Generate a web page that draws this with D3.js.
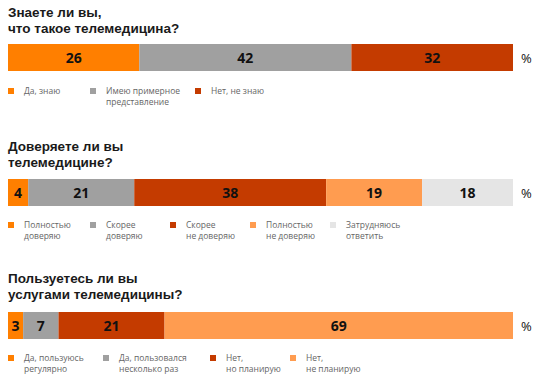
<!DOCTYPE html>
<html lang="ru">
<head>
<meta charset="UTF-8">
<title>Телемедицина</title>
<script src="https://d3js.org/d3.v7.min.js"></script>
<style>
  body { margin: 0; background: #fff; }
  svg { display: block; font-family: "Open Sans", "DejaVu Sans", sans-serif; }
  .title { font-family: "Liberation Sans", Arial, sans-serif; }
</style>
</head>
<body>
<div id="chart"></div>
<script>
// questions (two title lines each)
var titles = [
  ["Знаете ли вы,", "что такое телемедицина?"],
  ["Доверяете ли вы", "телемедицине?"],
  ["Пользуетесь ли вы", "услугами телемедицины?"]
];

// values per question, in %
var values1 = [26, 42, 32];
var values2 = [4, 21, 38, 19, 18];
var values3 = [3, 7, 21, 69];

// legend labels (lines split by |)
var labels1 = ["Да, знаю", "Имею примерное|представление", "Нет, не знаю"];
var labels2 = ["Полностью|доверяю", "Скорее|доверяю", "Скорее|не доверяю", "Полностью|не доверяю", "Затрудняюсь|ответить"];
var labels3 = ["Да, пользуюсь|регулярно", "Да, пользовался|несколько раз", "Нет,|но планирую", "Нет,|не планирую"];

var colors1 = ["#ff7f00", "#a0a0a0", "#c43b00"];
var colors2 = ["#ff7f00", "#a0a0a0", "#c43b00", "#ff9c50", "#e5e5e5"];
var colors3 = ["#ff7f00", "#a0a0a0", "#c43b00", "#ff9c50"];

var width = 538, height = 380;

var svg = d3.select("#chart").append("svg")
    .attr("width", width)
    .attr("height", height);

var x = d3.scaleLinear().domain([0, 100]).range([8, 513]);

// layout of each block
var blocks = [
  {values: values1, labels: labels1, colors: colors1, titleY: 17, barY: 44, legendY: 88, legendX: [8, 90, 195]},
  {values: values2, labels: labels2, colors: colors2, titleY: 151, barY: 179, legendY: 222, legendX: [8, 90, 170, 250, 330]},
  {values: values3, labels: labels3, colors: colors3, titleY: 283, barY: 312, legendY: 355, legendX: [8, 103, 210, 290]}
];
var barH = 27;

blocks.forEach(function(b, i) {
  var g = svg.append("g");

  // title, one text per line
  g.selectAll(".title")
      .data(titles[i])
      .enter().append("text")
      .attr("class", "title")
      .attr("x", 8)
      .attr("y", function(d, j) { return b.titleY + j * 15.5; })
      .attr("font-size", "13.5px")
      .attr("font-weight", "bold")
      .attr("fill", "#1a1a1a")
      .text(function(d) { return d; });

  // cumulative starts
  var starts = [];
  var acc = 0;
  b.values.forEach(function(v) { starts.push(acc); acc += v; });

  var seg = g.selectAll(".seg")
      .data(b.values)
      .enter().append("g");

  seg.append("rect")
      .attr("x", function(d, j) { return x(starts[j]); })
      .attr("y", b.barY)
      .attr("width", function(d) { return x(d) - x(0); })
      .attr("height", barH)
      .attr("fill", function(d, j) { return b.colors[j]; });

  seg.append("text")
      .attr("x", function(d, j) { return x(starts[j] + d / 2); })
      .attr("y", b.barY + barH / 2 + 5)
      .attr("text-anchor", "middle")
      .attr("font-size", "14px")
      .attr("font-weight", "bold")
      .attr("fill", "#111")
      .text(function(d) { return d; });

  g.append("text")
      .attr("x", 521)
      .attr("y", b.barY + barH / 2 + 5)
      .attr("font-size", "13px")
      .attr("fill", "#111")
      .text("%");

  // legend
  var leg = g.selectAll(".leg")
      .data(b.labels)
      .enter().append("g")
      .attr("transform", function(d, j) { return "translate(" + b.legendX[j] + "," + b.legendY + ")"; });

  leg.append("rect")
      .attr("width", 6)
      .attr("height", 6)
      .attr("fill", function(d, j) { return b.colors[j]; });

  leg.selectAll(".line")
      .data(function(d) { return d.split("|"); })
      .enter().append("text")
      .attr("x", 16)
      .attr("y", function(d, j) { return 6 + j * 11; })
      .attr("font-size", "8.5px")
      .attr("fill", "#666")
      .text(function(d) { return d; });
});
</script>
</body>
</html>
